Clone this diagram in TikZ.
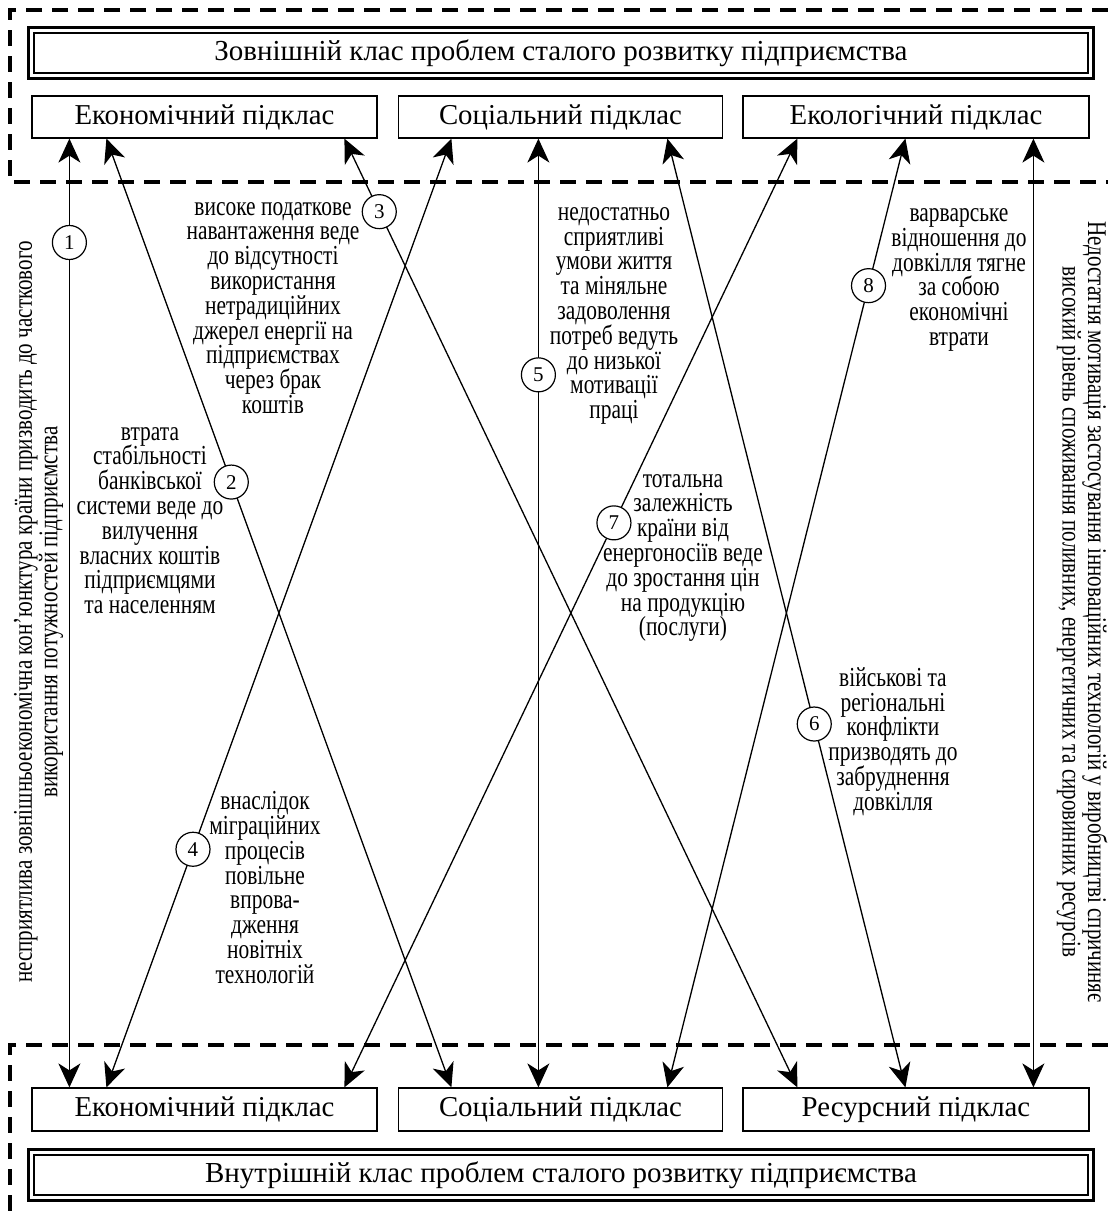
\documentclass[tikz,border=0pt]{standalone}
\usepackage{fontspec}
\setmainfont{Liberation Serif}
\newfontfamily\condser[FakeStretch=0.78]{Liberation Serif}
\newcommand\mytxtfont{\condser\fontsize{27.5}{24.8}\selectfont\lineskiplimit=-100pt\relax}
\newcommand\myrotfont{\condser\fontsize{27}{25.5}\selectfont\lineskiplimit=-100pt\relax}
\usetikzlibrary{arrows.meta,calc}
\begin{document}
\begin{tikzpicture}[x=1pt,y=-1pt,
  box/.style={draw, line width=1.2pt, minimum height=42pt, inner sep=0pt, font=\fontsize{28.8}{30}\selectfont},
  titlebox/.style={draw, line width=1.3pt, minimum width=1054pt, minimum height=40pt, inner sep=0pt, font=\fontsize{29}{32}\selectfont},
  num/.style={circle, draw, fill=white, line width=1.2pt, minimum size=34pt, inner sep=0pt, font=\fontsize{21}{24}\selectfont},
  txt/.style={align=center, inner sep=0pt, font=\mytxtfont},
  rot/.style={align=center, inner sep=0pt, font=\myrotfont},
  conn/.style={line width=1.3pt, {Stealth[length=24pt,width=22pt,inset=7pt]}-{Stealth[length=24pt,width=22pt,inset=7pt]}},
  region/.style={line width=3.5pt, dash pattern=on 16pt off 10pt}
]
\useasboundingbox (0,0) rectangle (1108,1216);

% dashed regions
\draw[region] (1108,10) -- (10,10) -- (10,182) -- (1108,182);
\draw[region] (1108,1045) -- (10,1045) -- (10,1216);

% title boxes
\node[titlebox] (ttop) at (561,53) {Зовнішній клас проблем сталого розвитку підприємства};
\draw[line width=2.4pt] ($(ttop.north west)+(-5,-5)$) rectangle ($(ttop.south east)+(5,5)$);
\node[titlebox] (tbot) at (561,1175) {Внутрішній клас проблем сталого розвитку підприємства};
\draw[line width=2.4pt] ($(tbot.north west)+(-5,-5)$) rectangle ($(tbot.south east)+(5,5)$);

% sub-boxes
\node[box, minimum width=345pt] (te1) at (204.5,117) {Економічний підклас};
\node[box, minimum width=324pt] (ts1) at (560.5,117) {Соціальний підклас};
\node[box, minimum width=346pt] (tk1) at (916,117) {Екологічний підклас};
\node[box, minimum width=345pt, minimum height=43pt] (be1) at (204.5,1109.5) {Економічний підклас};
\node[box, minimum width=324pt, minimum height=43pt] (bs1) at (560.5,1109.5) {Соціальний підклас};
\node[box, minimum width=346pt, minimum height=43pt] (br1) at (916,1109.5) {Ресурсний підклас};

% connector ends
\coordinate (t1) at ([xshift=38pt]te1.south west);
\coordinate (t2) at ([xshift=75pt]te1.south west);
\coordinate (t3) at ([xshift=313pt]te1.south west);
\coordinate (t4) at ([xshift=53.5pt]ts1.south west);
\coordinate (t5) at ([xshift=140.5pt]ts1.south west);
\coordinate (t6) at ([xshift=269.5pt]ts1.south west);
\coordinate (t7) at ([xshift=55pt]tk1.south west);
\coordinate (t8) at ([xshift=163pt]tk1.south west);
\coordinate (t9) at ([xshift=291pt]tk1.south west);
\coordinate (b1) at ([xshift=38pt]be1.north west);
\coordinate (b2) at ([xshift=53.5pt]bs1.north west);
\coordinate (b3) at ([xshift=55pt]br1.north west);
\coordinate (b4) at ([xshift=75pt]be1.north west);
\coordinate (b5) at ([xshift=140.5pt]bs1.north west);
\coordinate (b6) at ([xshift=163pt]br1.north west);
\coordinate (b7) at ([xshift=313pt]be1.north west);
\coordinate (b8) at ([xshift=269.5pt]bs1.north west);
\coordinate (b9) at ([xshift=291pt]br1.north west);

% connectors
\draw[conn] (t1) -- node[num, pos=0.1095] (n1) {1} (b1);
\draw[conn] (t2) -- node[num, pos=0.362] (n2) {2} (b2);
\draw[conn] (t3) -- node[num, pos=0.077] (n3) {3} (b3);
\draw[conn] (t4) -- node[num, pos=0.749] (n4) {4} (b4);
\draw[conn] (t5) -- node[num, pos=0.249] (n5) {5} (b5);
\draw[conn] (t6) -- node[num, pos=0.617] (n6) {6} (b6);
\draw[conn] (t7) -- node[num, pos=0.405] (n7) {7} (b7);
\draw[conn] (t8) -- node[num, pos=0.155] (n8) {8} (b8);
\draw[conn] (t9) -- (b9);

% texts
\node[txt] (d3) at (273,308) {високе податкове\\навантаження веде\\до відсутності\\використання\\нетрадиційних\\джерел енергії на\\підприємствах\\через брак\\коштів};
\node[txt] (d2) at (150,520.5) {втрата\\стабільності\\банківської\\системи веде до\\вилучення\\власних коштів\\підприємцями\\та населенням};
\node[txt] (d4) at (265,887.5) {внаслідок\\міграційних\\процесів\\повільне\\впрова-\\дження\\новітніх\\технологій};
\node[txt] (d5) at (614,316) {недостатньо\\сприятливі\\умови життя\\та міняльне\\задоволення\\потреб ведуть\\до низької\\мотивації\\праці};
\node[txt] (d7) at (683,558) {тотальна\\залежність\\країни від\\енергоносіїв веде\\до зростання цін\\на продукцію\\(послуги)};
\node[txt] (d8) at (959,280) {варварське\\відношення до\\довкілля тягне\\за собою\\економічні\\втрати};
\node[txt] (d6) at (893,741.5) {військові та\\регіональні\\конфлікти\\призводять до\\забруднення\\довкілля};

\node[rot, rotate=90] (lt) at (38.5,612) {несприятлива зовнішньоекономічна кон’юнктура країни призводить до часткового\\використання потужностей підприємства};
\node[rot, rotate=-90] (rt) at (1082,612) {Недостатня мотивація застосування інноваційних технологій у виробництві спричиняє\\високий рівень споживання поливних, енергетичних та сировинних ресурсів};
\end{tikzpicture}
\end{document}
